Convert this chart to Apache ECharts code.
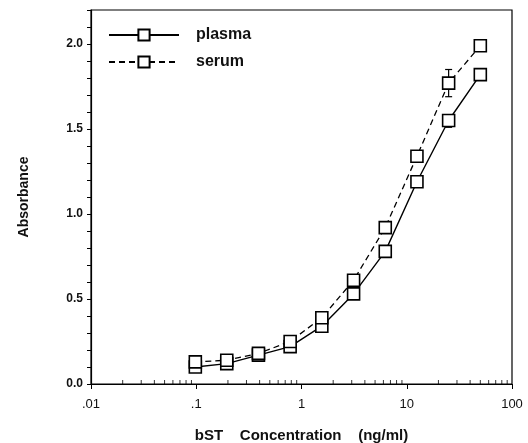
<!DOCTYPE html>
<html>
<head>
<meta charset="utf-8">
<script src="https://cdn.jsdelivr.net/npm/echarts@6/dist/echarts.min.js"></script>
<style>
  html, body { margin: 0; padding: 0; background: #fff; }
  #main { width: 528px; height: 443px; }
</style>
</head>
<body>
<div id="main"></div>
<script>
var chart = echarts.init(document.getElementById('main'));

// bST concentration (ng/ml)
var conc = [0.098, 0.195, 0.39, 0.78, 1.56, 3.125, 6.25, 12.5, 25, 50];
var plasma = [0.10, 0.12, 0.17, 0.22, 0.34, 0.53, 0.78, 1.19, 1.55, 1.82];
var serum = [0.13, 0.14, 0.18, 0.25, 0.39, 0.61, 0.92, 1.34, 1.77, 1.99];
// error bars: [x, low, high]
var serumErr = [[25, 1.69, 1.85]];
var plasmaErr = [[25, 1.51, 1.58]];
var xTickLabels = { '0.01': '.01', '0.1': '.1', '1': '1', '10': '10', '100': '100' };

var font = 'Arial, "Liberation Sans", sans-serif';

// log minor tick positions (2..9 per decade)
var minorTicks = [];
[0.01, 0.1, 1, 10].forEach(function (d) {
  for (var k = 2; k <= 9; k++) minorTicks.push([d * k, 0]);
});

function errItem(params, api) {
  var x = api.value(0);
  var lo = api.coord([x, api.value(1)]);
  var hi = api.coord([x, api.value(2)]);
  var w = 3.5;
  var st = { stroke: '#000', lineWidth: 1.2 };
  return {
    type: 'group',
    children: [
      { type: 'line', shape: { x1: lo[0], y1: lo[1], x2: hi[0], y2: hi[1] }, style: st },
      { type: 'line', shape: { x1: lo[0] - w, y1: lo[1], x2: lo[0] + w, y2: lo[1] }, style: st },
      { type: 'line', shape: { x1: hi[0] - w, y1: hi[1], x2: hi[0] + w, y2: hi[1] }, style: st }
    ]
  };
}

var option = {
  animation: false,
  backgroundColor: '#fff',
  grid: {
    left: 91, right: 16, top: 10, bottom: 59,
    outerBoundsMode: 'none', containLabel: false,
    show: true, borderColor: '#000', borderWidth: 1.2
  },
  legend: {
    orient: 'vertical',
    left: 103,
    top: 22,
    itemWidth: 70,
    itemHeight: 14,
    itemGap: 11,
    data: ['plasma', 'serum'],
    textStyle: { fontFamily: font, fontSize: 16, fontWeight: 'bold', color: '#111', padding: [0, 0, 0, 12] }
  },
  xAxis: {
    type: 'log',
    logBase: 10,
    min: 0.01,
    max: 100,
    name: 'bST    Concentration    (ng/ml)',
    nameLocation: 'middle',
    nameGap: 44,
    nameTextStyle: { fontFamily: font, fontSize: 15, fontWeight: 'bold', color: '#111' },
    axisLine: { lineStyle: { color: '#000', width: 1.2 } },
    axisTick: { length: 5, lineStyle: { color: '#000' } },
    splitLine: { show: false },
    axisLabel: {
      fontFamily: font, fontSize: 13, color: '#111', margin: 14,
      formatter: function (v) { return xTickLabels[String(+v.toPrecision(3))] || ''; }
    }
  },
  yAxis: {
    type: 'value',
    min: 0,
    max: 2.2,
    interval: 0.1,
    name: 'Absorbance',
    nameLocation: 'middle',
    nameGap: 60,
    nameTextStyle: { fontFamily: font, fontSize: 14, fontWeight: 'bold', color: '#111' },
    axisLine: { show: true, lineStyle: { color: '#000', width: 1.2 } },
    axisTick: { show: true, length: 4, lineStyle: { color: '#000' } },
    splitLine: { show: false },
    axisLabel: {
      fontFamily: font, fontSize: 12, fontWeight: 'bold', color: '#111', margin: 8,
      formatter: function (v) {
        var r = Math.round(v * 10);
        return r % 5 === 0 && r <= 20 ? (r / 10).toFixed(1) : '';
      }
    }
  },
  series: [
    {
      name: 'plasma',
      type: 'line',
      data: conc.map(function (x, i) { return [x, plasma[i]]; }),
      symbol: 'rect',
      symbolSize: 12,
      lineStyle: { color: '#000', width: 1.4, type: 'solid' },
      itemStyle: { color: '#fff', borderColor: '#000', borderWidth: 1.6 },
      z: 3
    },
    {
      name: 'serum',
      type: 'line',
      data: conc.map(function (x, i) { return [x, serum[i]]; }),
      symbol: 'rect',
      symbolSize: 12,
      lineStyle: { color: '#000', width: 1.3, type: [6, 4] },
      itemStyle: { color: '#fff', borderColor: '#000', borderWidth: 1.6 },
      z: 4
    },
    {
      type: 'custom',
      renderItem: errItem,
      data: serumErr.concat(plasmaErr),
      encode: { x: 0, y: [1, 2] },
      silent: true,
      z: 2
    },
    {
      type: 'scatter',
      data: minorTicks,
      symbol: 'rect',
      symbolSize: [1, 4],
      symbolOffset: [0, -2],
      itemStyle: { color: '#000' },
      silent: true,
      clip: false,
      z: 1
    }
  ]
};

chart.setOption(option);
</script>
</body>
</html>
